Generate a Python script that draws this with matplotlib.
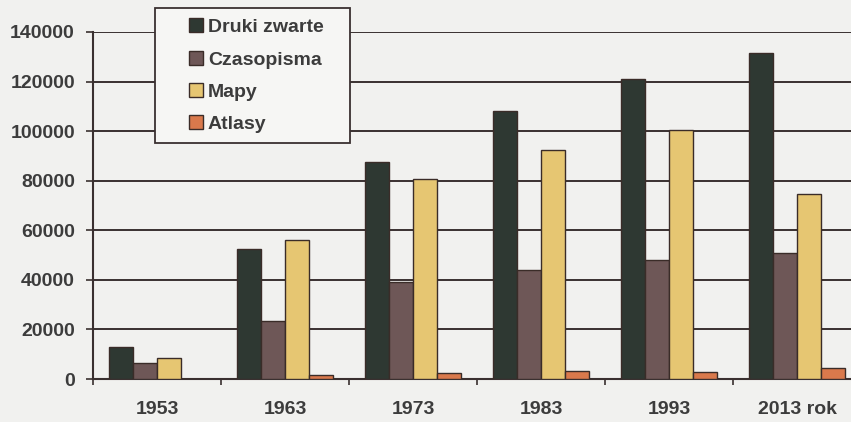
import numpy as np
import matplotlib.pyplot as plt
from matplotlib.patches import Rectangle

years = ['1953', '1963', '1973', '1983', '1993', '2013 rok']
druki = [13000, 52500, 87500, 108000, 121000, 131600]
czasopisma = [6300, 23300, 39200, 44000, 48000, 50700]
mapy = [8300, 56000, 80700, 92400, 100400, 74600]
atlasy = [0, 1600, 2500, 3300, 2900, 4400]

series = [druki, czasopisma, mapy, atlasy]
names = ['Druki zwarte', 'Czasopisma', 'Mapy', 'Atlasy']
colors = ['#2e3832', '#6e5757', '#e6c672', '#d9794c']

plt.rcParams['font.family'] = ['Liberation Sans', 'DejaVu Sans']
bg = '#f1f1ef'
edge = '#3a2c28'

fig = plt.figure(figsize=(8.51, 4.22), dpi=100, facecolor=bg)
# axis extends past the right edge of the picture
ax = fig.add_axes([93/851, 43/422, 768/851, 347/422], facecolor=bg)

x = np.arange(len(years))
w = 0.1875
for i, (vals, c) in enumerate(zip(series, colors)):
    ax.bar(x - 1.5*w + i*w, vals, w, color=c, edgecolor=edge, linewidth=1.0,
           label=names[i], zorder=3)

ax.set_xlim(-0.5, len(years) - 0.5)
ax.set_ylim(0, 140000)
ax.set_yticks(np.arange(0, 140001, 20000))
ax.yaxis.grid(True, color='#3a3030', linewidth=1.4, zorder=0)
ax.set_axisbelow(True)

ax.set_xticks(x)
ax.set_xticklabels(years)
ax.set_xticks(np.arange(-0.5, len(years)), minor=True)
ax.tick_params(axis='x', which='major', length=0, pad=16)
ax.tick_params(axis='x', which='minor', length=4, width=1.2, color='#3a3030', direction='out')
ax.tick_params(axis='y', length=5, width=1.2, color='#3a3030', pad=8)
for lbl in ax.get_xticklabels() + ax.get_yticklabels():
    lbl.set_fontweight('bold')
    lbl.set_fontsize(14)
    lbl.set_color('#3c3c3c')

for s in ['top', 'right']:
    ax.spines[s].set_visible(False)
for s in ['left', 'bottom']:
    ax.spines[s].set_color('#3a3030')
    ax.spines[s].set_linewidth(1.5)

# legend box
box = Rectangle((155/851, 1 - 143/422), 195/851, 135/422, transform=fig.transFigure,
                facecolor='#f6f6f4', edgecolor='#3a3030', linewidth=1.3, zorder=5)
fig.patches.append(box)
leg = fig.legend(loc='upper left', bbox_to_anchor=(171/851, 1 - 1/422), frameon=False,
                 handlelength=0.72, handleheight=0.72, handletextpad=0.28,
                 labelspacing=0.75, prop={'weight': 'bold', 'size': 14})
for t in leg.get_texts():
    t.set_color('#3c3c3c')
leg.set_zorder(6)

fig.savefig('out.png', dpi=100, facecolor=bg)
